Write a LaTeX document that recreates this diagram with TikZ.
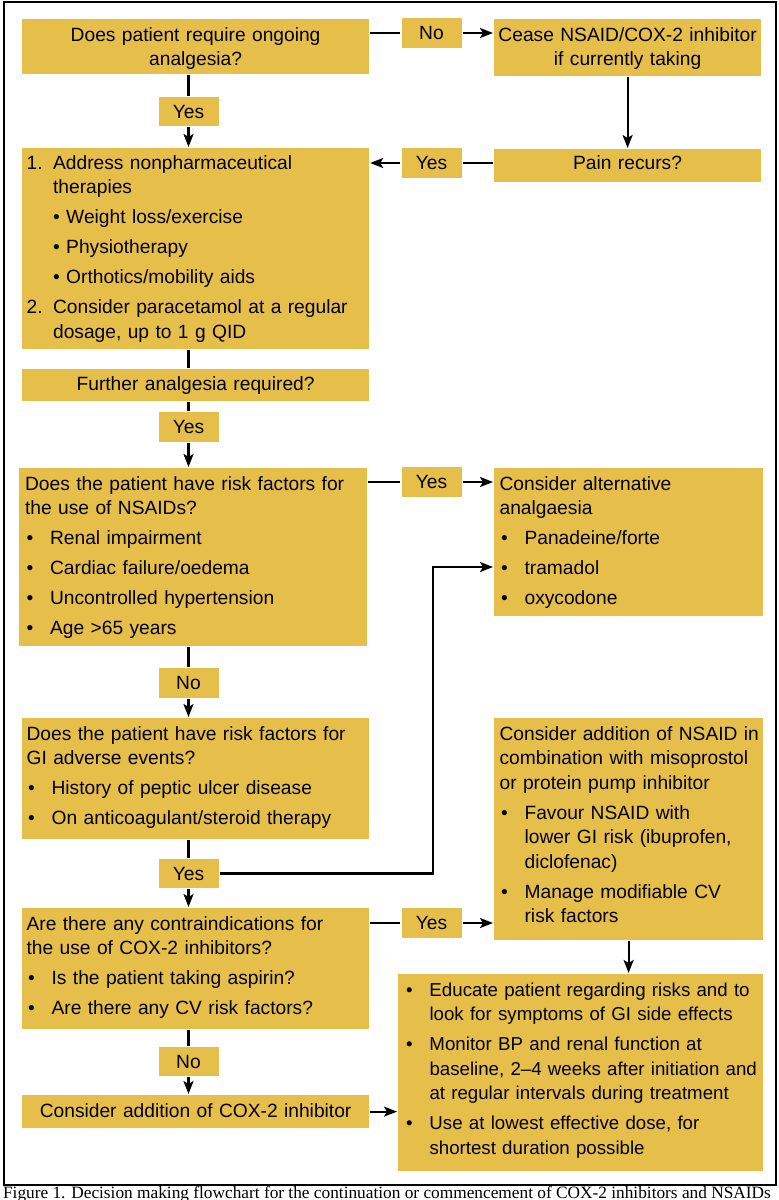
\documentclass[tikz,border=0pt]{standalone}
\usepackage{fontspec}
\setmainfont{Liberation Sans}
\newfontfamily\capfont{Liberation Serif}
\usetikzlibrary{arrows.meta}
\definecolor{gold}{HTML}{E6BF4B}
\newcommand{\mainsize}{\fontsize{19.2}{24.5}\selectfont}
\newcommand{\ksize}{\fontsize{18.7}{24.5}\selectfont}
\newcommand{\bu}{\makebox[25pt][l]{\hspace{1.5pt}•}}
\newcommand{\hb}{\hspace*{25pt}}
\newcommand{\nb}{\hspace*{26.5pt}}
\begin{document}
\begin{tikzpicture}[x=1pt,y=-1pt,line width=2.2pt,
  box/.style={fill=gold, inner ysep=0pt, anchor=north west, font=\mainsize},
  lab/.style={fill=gold, minimum width=60pt, minimum height=29.5pt, inner sep=0pt, font=\mainsize},
  arr/.style={-{Stealth[length=13pt,width=10pt,inset=3pt]}}]
\useasboundingbox (0,0) rectangle (779,1200);
\draw[line width=2.4pt] (4,2) rectangle (776,1185);

% boxes
\node[box, align=center, inner xsep=4pt, text width=339pt, text height=22pt, text depth=33pt] (A) at (21,18)
  {\begin{tabular}[t]{@{}c@{}}Does patient require ongoing\\analgesia?\end{tabular}};
\node[box, align=center, inner xsep=4pt, text width=259pt, text height=22pt, text depth=35pt] (C) at (493,18)
  {\begin{tabular}[t]{@{}c@{}}Cease NSAID/COX-2 inhibitor\\if currently taking\end{tabular}};
\node[box, align=center, inner xsep=4pt, text width=259pt, text height=20pt, text depth=13pt] (D) at (493,148)
  {\begin{tabular}[t]{@{}c@{}}Pain recurs?\end{tabular}};
\node[box, align=left, inner xsep=4.5pt, text width=338pt, text height=21pt, text depth=180pt] (B) at (21,147)
  {\begin{tabular}[t]{@{}l@{}}
  \makebox[26.5pt][l]{1.}Address nonpharmaceutical\\
  \nb therapies\\[5.5pt]
  \nb • Weight loss/exercise\\[5.5pt]
  \nb • Physiotherapy\\[5.5pt]
  \nb • Orthotics/mobility aids\\[5.5pt]
  \makebox[26.5pt][l]{2.}Consider paracetamol at a regular\\
  \nb dosage, up to 1 g QID
  \end{tabular}};
\node[box, align=center, inner xsep=4pt, text width=339pt, text height=21pt, text depth=11pt] (E) at (21,368)
  {\begin{tabular}[t]{@{}c@{}}Further analgesia required?\end{tabular}};
\node[box, align=left, inner xsep=6pt, text width=336pt, text height=22pt, text depth=156pt] (F) at (18,467)
  {\begin{tabular}[t]{@{}l@{}}
  Does the patient have risk factors for\\
  the use of NSAIDs?\\[5.5pt]
  \bu Renal impairment\\[5.5pt]
  \bu Cardiac failure/oedema\\[5.5pt]
  \bu Uncontrolled hypertension\\[5.5pt]
  \bu Age >65 years
  \end{tabular}};
\node[box, align=left, inner xsep=5.5pt, text width=258pt, text height=22pt, text depth=126pt] (G) at (493,467)
  {\begin{tabular}[t]{@{}l@{}}
  Consider alternative\\
  analgaesia\\[5.5pt]
  \bu Panadeine/forte\\[5.5pt]
  \bu tramadol\\[5.5pt]
  \bu oxycodone
  \end{tabular}};
\node[box, align=left, inner xsep=4.5pt, text width=338pt, text height=22pt, text depth=99pt] (H) at (21,717)
  {\begin{tabular}[t]{@{}l@{}}
  Does the patient have risk factors for\\
  GI adverse events?\\[5.5pt]
  \bu History of peptic ulcer disease\\[5.5pt]
  \bu On anticoagulant/steroid therapy
  \end{tabular}};
\node[box, align=left, inner xsep=4.5pt, text width=338pt, text height=22pt, text depth=99pt] (I) at (21,907)
  {\begin{tabular}[t]{@{}l@{}}
  Are there any contraindications for\\
  the use of COX-2 inhibitors?\\[5.5pt]
  \bu Is the patient taking aspirin?\\[5.5pt]
  \bu Are there any CV risk factors?
  \end{tabular}};
\node[box, align=left, inner xsep=5.5pt, text width=258pt, text height=22pt, text depth=200pt] (J) at (493,717)
  {\begin{tabular}[t]{@{}l@{}}
  Consider addition of NSAID in\\
  combination with misoprostol\\
  or protein pump inhibitor\\[5.5pt]
  \bu Favour NSAID with\\
  \hb lower GI risk (ibuprofen,\\
  \hb diclofenac)\\[5.5pt]
  \bu Manage modifiable CV\\
  \hb risk factors
  \end{tabular}};
\node[box, font=\ksize, align=left, inner xsep=6.4pt, text width=352pt, text height=22pt, text depth=175pt] (K) at (397,973)
  {\begin{tabular}[t]{@{}l@{}}
  \bu Educate patient regarding risks and to\\
  \hb look for symptoms of GI side effects\\[5.5pt]
  \bu Monitor BP and renal function at\\
  \hb baseline, 2–4 weeks after initiation and\\
  \hb at regular intervals during treatment\\[5.5pt]
  \bu Use at lowest effective dose, for\\
  \hb shortest duration possible
  \end{tabular}};
\node[box, align=center, inner xsep=4pt, text width=339pt, text height=22pt, text depth=11pt] (L) at (21,1094)
  {\begin{tabular}[t]{@{}c@{}}Consider addition of COX-2 inhibitor\end{tabular}};

% labels
\node[lab] (Y1) at (188.5,111.5) {Yes};
\node[lab] (No1) at (431.5,33) {No};
\node[lab] (Y2) at (431.5,163) {Yes};
\node[lab] (Y3) at (188.5,427) {Yes};
\node[lab] (Y4) at (431.5,482) {Yes};
\node[lab] (N4) at (188.5,683) {No};
\node[lab] (Y5) at (188.5,873.5) {Yes};
\node[lab] (Y6) at (431.5,923) {Yes};
\node[lab] (N7) at (188.5,1061.5) {No};
\coordinate (jog) at (433,567);

% connectors
\draw (A.south -| Y1) -- (Y1.north);
\draw[arr] (Y1.south) -- (Y1.south |- B.north);
\draw (A.east |- No1) -- (No1.west);
\draw[arr] (No1.east) -- (No1 -| C.west);
\draw[arr] (C.south) -- (D.north);
\draw (D.west |- Y2) -- (Y2.east);
\draw[arr] (Y2.west) -- (Y2 -| B.east);
\draw (B.south -| Y1) -- (E.north -| Y1);
\draw (E.south -| Y3) -- (Y3.north);
\draw[arr] (Y3.south) -- (Y3.south |- F.north);
\draw (F.east |- Y4) -- (Y4.west);
\draw[arr] (Y4.east) -- (Y4 -| G.west);
\draw (F.south -| N4) -- (N4.north);
\draw[arr] (N4.south) -- (N4.south |- H.north);
\draw (H.south -| Y5) -- (Y5.north);
\draw[arr] (Y5.south) -- (Y5.south |- I.north);
\draw[arr] (Y5.east) -| (jog) -- (jog -| G.west);
\draw (I.east |- Y6) -- (Y6.west);
\draw[arr] (Y6.east) -- (Y6 -| J.west);
\draw[arr] (J.south) -- (J.south |- K.north);
\draw (I.south -| N7) -- (N7.north);
\draw[arr] (N7.south) -- (N7.south |- L.north);
\draw[arr] (L.east) -- (L.east -| K.west);

% caption (cut by the page edge, as in the reference)
\node[anchor=base west, inner sep=0pt, font=\capfont\fontsize{17.3}{20}\selectfont] (cap) at (2,1198.5)
  {Figure 1. Decision making flowchart for the continuation or commencement of COX-2 inhibitors and NSAIDs};
\end{tikzpicture}
\end{document}
